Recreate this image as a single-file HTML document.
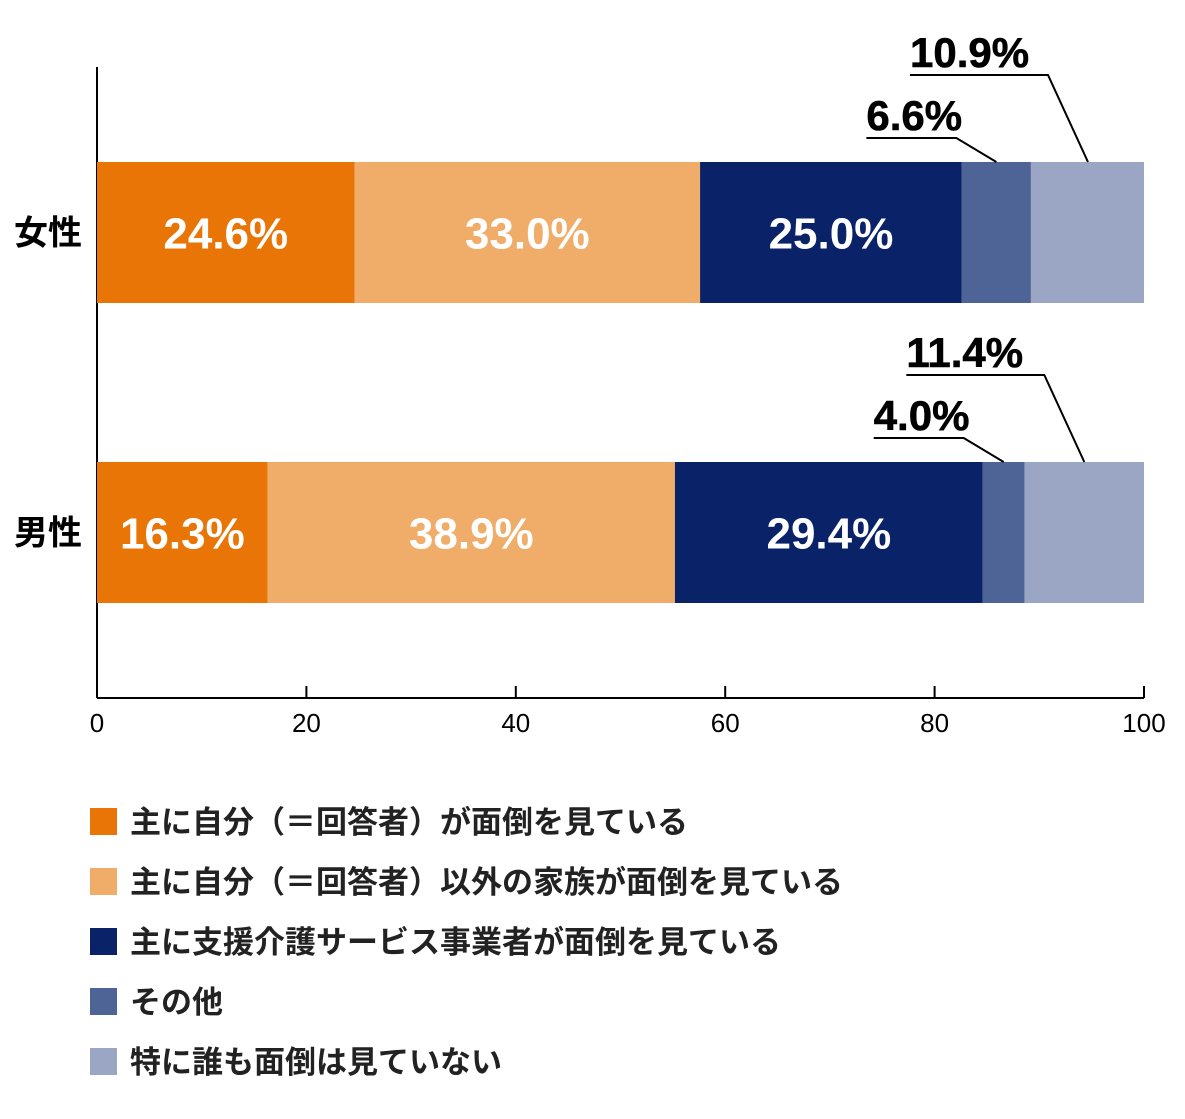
<!DOCTYPE html>
<html><head><meta charset="utf-8"><style>
body{margin:0;background:#fff;}
svg text{font-family:"Liberation Sans","Noto Sans CJK JP",sans-serif;}
</style></head><body>
<svg id="chart" width="1185" height="1114" xmlns="http://www.w3.org/2000/svg"></svg>
<script>
const categories=["女性","男性"];
const seriesNames=["主に自分（＝回答者）が面倒を見ている","主に自分（＝回答者）以外の家族が面倒を見ている","主に支援介護サービス事業者が面倒を見ている","その他","特に誰も面倒は見ていない"];
const seriesValues=[[24.6,16.3],[33.0,38.9],[25.0,29.4],[6.6,4.0],[10.9,11.4]];
const tickValues=[0,20,40,60,80,100];
const colors=["#E87506","#F0AD69","#0A2267","#4E6396","#9AA6C4"];
const NS="http://www.w3.org/2000/svg";
const svg=document.getElementById("chart");
const x0=97,x1=1144;
const xs=v=>x0+(x1-x0)*v/100;
const barTop=[162,462],barH=141;
function el(t,a,txt){const e=document.createElementNS(NS,t);for(const k in a)e.setAttribute(k,a[k]);if(txt!==undefined)e.textContent=txt;svg.appendChild(e);return e;}
// axes
let ax=el("line",{x1:x0,y1:67,x2:x0,y2:698,stroke:"#000","stroke-width":2});


let bx=el("line",{x1:x0,y1:698,x2:x1,y2:698,stroke:"#000","stroke-width":2});


tickValues.forEach(v=>{
 const t=el("line",{x1:xs(v),y1:686,x2:xs(v),y2:698,stroke:"#000","stroke-width":2});
 
 
 const l=el("text",{x:xs(v),y:732,"font-size":26,"text-anchor":"middle",fill:"#000"},String(v));
 
 
});
categories.forEach((c,ci)=>{
 const cl=el("text",{x:14,y:barTop[ci]+barH/2+12,"font-size":34,"font-weight":"bold",fill:"#000"},c);
 
 
 let acc=0;
 seriesValues.forEach((s,si)=>{
  const v=s[ci];
  const r=el("rect",{x:xs(acc),y:barTop[ci],width:Math.min(xs(acc+v),x1)-xs(acc),height:barH,fill:colors[si]});
  
  
  if(si<3){
   const t=el("text",{x:xs(acc+v/2),y:barTop[ci]+barH/2+16,"font-size":44,"font-weight":"bold",fill:"#fff","text-anchor":"middle"},v.toFixed(1)+"%");
   
   
  }
  acc+=v;
 });
 // callouts
 const a3=seriesValues[0][ci]+seriesValues[1][ci]+seriesValues[2][ci];
 const mid3=a3+seriesValues[3][ci]/2, mid4=a3+seriesValues[3][ci]+seriesValues[4][ci]/2;
 const top=barTop[ci];
 const specs=[{v:seriesValues[3][ci],tx:xs(mid3)-130,ty:top-24,ex:xs(mid3)},{v:seriesValues[4][ci],tx:xs(mid4)-178,ty:top-87,ex:xs(mid4)}];
 specs.forEach(sp=>{
  const t=el("text",{x:sp.tx,y:sp.ty-8,"font-size":42,"font-weight":"bold",fill:"#000",stroke:"#000","stroke-width":0.6},sp.v.toFixed(1)+"%");
  
  
  const p=el("polyline",{points:`${sp.tx},${sp.ty} ${sp.ex-40},${sp.ty} ${sp.ex},${top}`,fill:"none",stroke:"#000","stroke-width":2});
  
  
 });
});
seriesNames.forEach((n,i)=>{
 const y=808+i*60;
 const r=el("rect",{x:90,y:y,width:27,height:27,fill:colors[i]});
 
 
 const t=el("text",{x:130,y:y+25,"font-size":31,"font-weight":"bold",fill:"#222"},n);
 
 
});
</script>
</body></html>
